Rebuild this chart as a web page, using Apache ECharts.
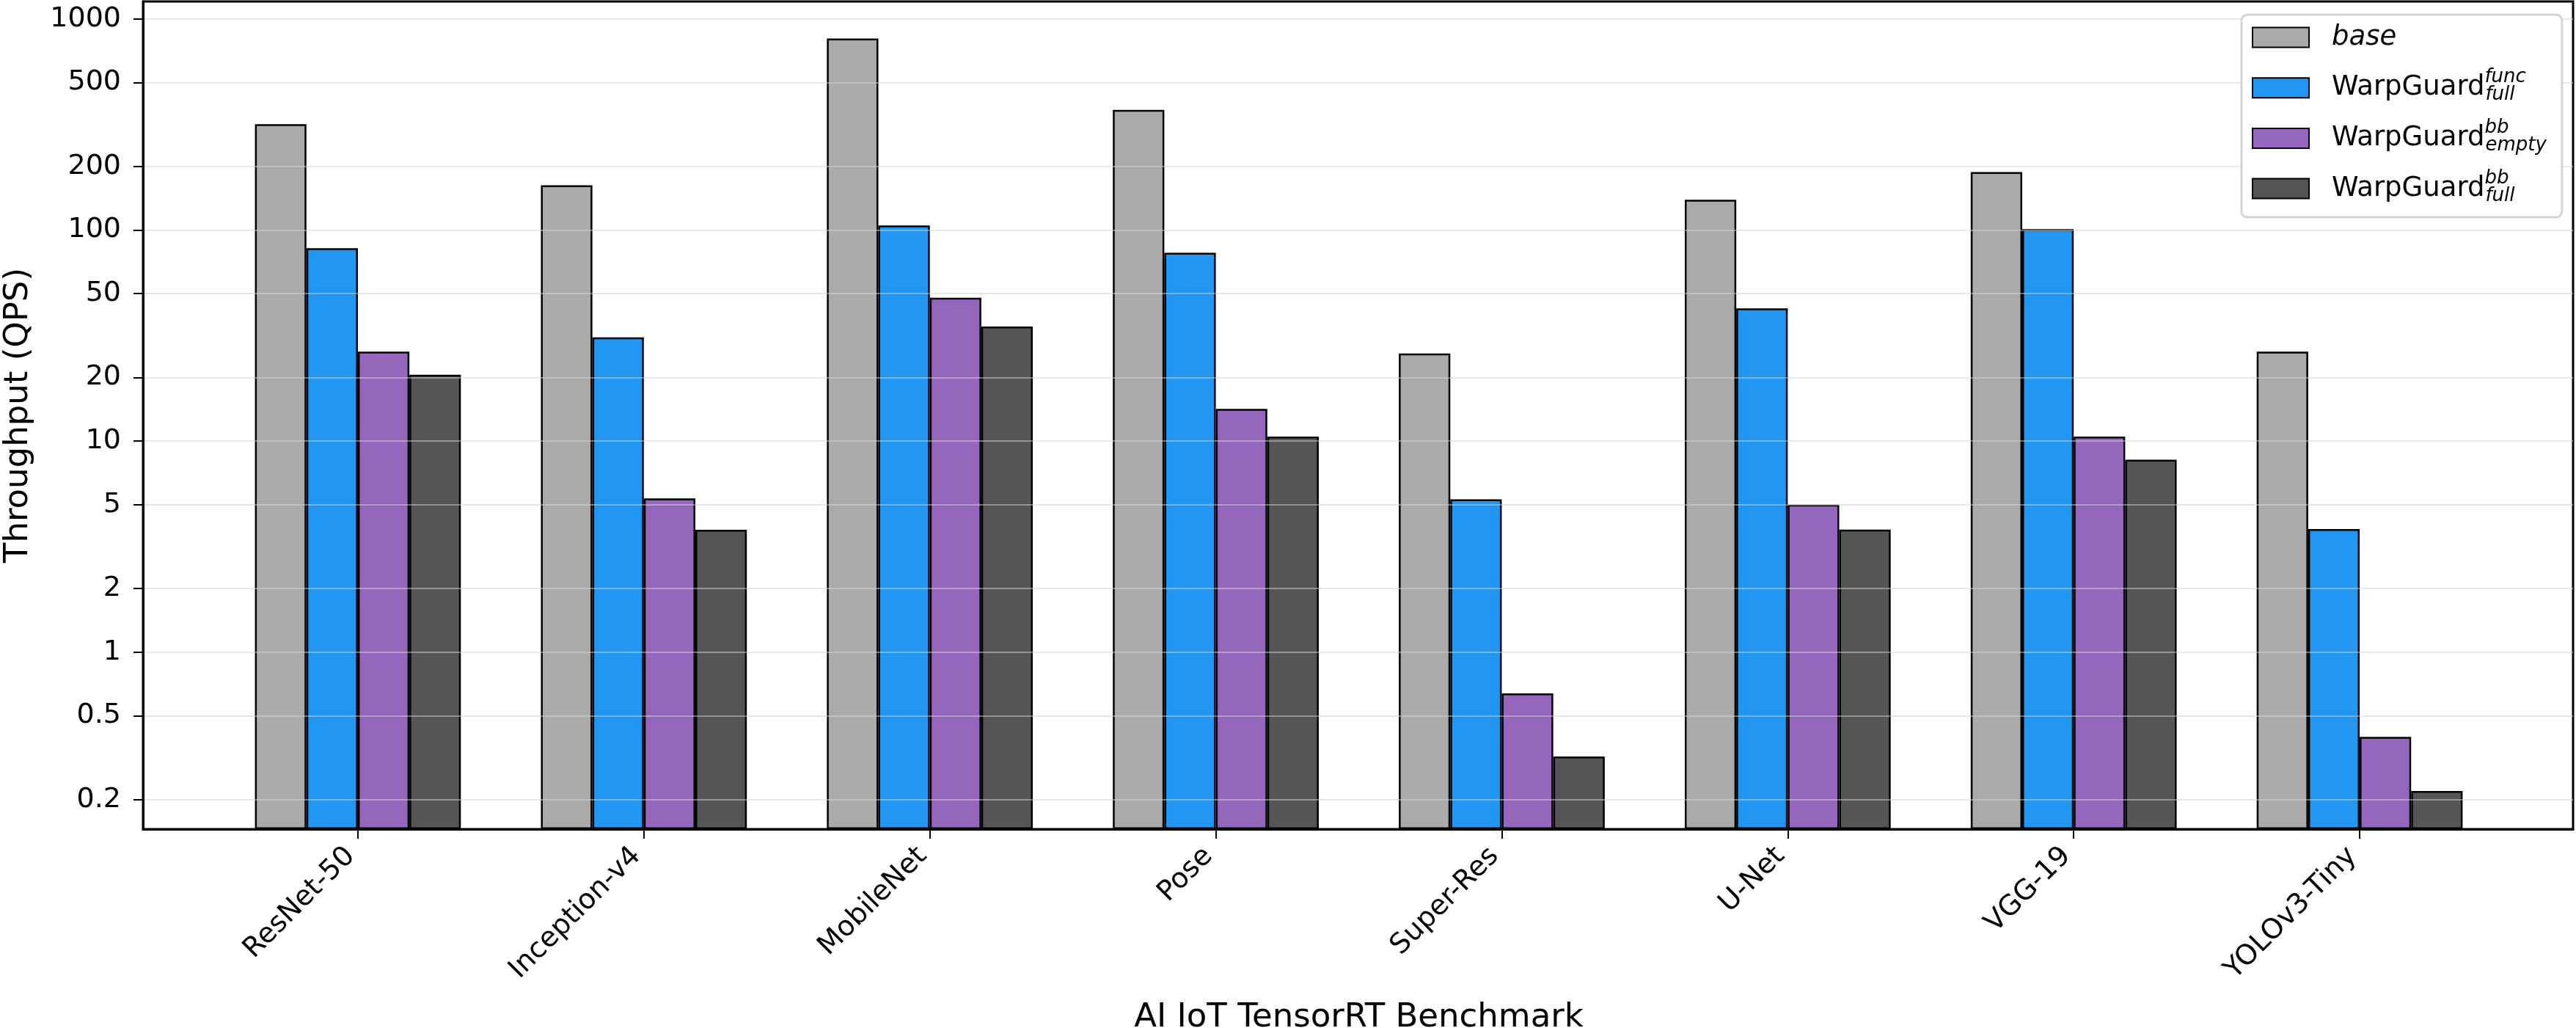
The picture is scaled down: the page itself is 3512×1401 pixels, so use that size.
<!DOCTYPE html>
<html>
<head>
<meta charset="utf-8">
<title>AI IoT TensorRT Benchmark</title>
<script src="https://cdn.jsdelivr.net/npm/echarts@6/dist/echarts.min.js"></script>
<style>
    html, body { margin: 0; padding: 0; background: #fff; }
    #chartArea { width: 3512px; height: 1401px; }
</style>
</head>
<body>
<div id="chartArea"></div>
<script>
// benchmarks on the x axis
var categories = ['ResNet-50', 'Inception-v4', 'MobileNet', 'Pose', 'Super-Res', 'U-Net', 'VGG-19', 'YOLOv3-Tiny'];

// throughput (QPS)
var baseData = [317, 163, 807, 371, 26.0, 139, 188, 26.5];
var funcFullData = [82, 31, 105, 78, 5.3, 42.5, 101, 3.83];
var bbEmptyData = [26.5, 5.35, 47.8, 14.2, 0.637, 5.0, 10.5, 0.397];
var bbFullData = [20.6, 3.8, 34.9, 10.5, 0.32, 3.81, 8.16, 0.22];

// y tick labels (1-2-5 per decade)
var yTicks = [0.2, 0.5, 1, 2, 5, 10, 20, 50, 100, 200, 500, 1000];
var yMin = 0.145;
var yMax = 1210;

var seriesNames = ['base', 'WarpGuard func full', 'WarpGuard bb empty', 'WarpGuard bb full'];
var seriesColors = ['#aaaaaa', '#2196f3', '#9467bd', '#555555'];
var seriesData = [baseData, funcFullData, bbEmptyData, bbFullData];

var FONT = 'DejaVu Sans';

// legend text with stacked super/subscripts
var legendLabels = {
    'base': '{sp| }{it|base}',
    'WarpGuard func full': '{sp| }WarpGuard{sup|func}{sub|full}',
    'WarpGuard bb empty': '{sp| }WarpGuard{sup|bb}{sub|empty}',
    'WarpGuard bb full': '{sp| }WarpGuard{sup|bb}{sub|full}'
};

var myChart = echarts.init(document.getElementById('chartArea'), null, {renderer: 'canvas'});

var temp_series = [];
for (var i = 0; i < seriesData.length; i++) {
    temp_series.push({
        name: seriesNames[i],
        type: 'bar',
        xAxisIndex: 1,
        yAxisIndex: 1,
        barWidth: '18%',
        barGap: '0%',
        clip: true,
        itemStyle: {
            color: seriesColors[i],
            borderColor: '#000',
            borderWidth: 2.5
        },
        emphasis: {disabled: true},
        data: seriesData[i]
    });
}

var option = {
    backgroundColor: '#fff',
    animation: false,
    textStyle: {fontFamily: FONT, color: '#000'},
    legend: {
        orient: 'vertical',
        left: 3056,
        top: 20,
        padding: [4, 21, 12, 14],
        itemGap: 14.7,
        itemWidth: 77,
        itemHeight: 27,
        icon: 'rect',
        backgroundColor: '#fff',
        borderColor: '#d5d5d5',
        borderWidth: 3,
        borderRadius: 8,
        data: seriesNames,
        formatter: function (name) {
            return legendLabels[name];
        },
        textStyle: {
            fontFamily: FONT,
            fontSize: 37,
            lineHeight: 54,
            color: '#000',
            rich: {
                sp: {width: 26, fontSize: 37},
                it: {fontStyle: 'italic', fontSize: 37, fontFamily: FONT},
                sup: {fontStyle: 'italic', fontSize: 26, fontFamily: FONT, width: 1, height: 26, lineHeight: 26, verticalAlign: 'top'},
                sub: {fontStyle: 'italic', fontSize: 26, fontFamily: FONT, height: 34, lineHeight: 34, verticalAlign: 'bottom'}
            }
        }
    },
    grid: [
        // frame + y axis
        {left: 195, top: 2, width: 3313, height: 1128, outerBoundsMode: 'none', containLabel: false,
            show: true, borderColor: '#000', borderWidth: 3, backgroundColor: 'transparent'},
        // bars, inset a quarter band on each side
        {left: 293, top: 2, width: 3119, height: 1128, outerBoundsMode: 'none', containLabel: false}
    ],
    xAxis: [
        {
            gridIndex: 0,
            type: 'value',
            min: 0,
            max: 1,
            z: 3,
            axisLine: {show: true, lineStyle: {color: '#000', width: 3}},
            axisTick: {show: false},
            axisLabel: {show: false},
            splitLine: {show: false}
        },
        {
            gridIndex: 1,
            type: 'category',
            data: categories,
            name: 'AI IoT TensorRT Benchmark',
            nameLocation: 'middle',
            nameGap: 235,
            nameTextStyle: {fontFamily: FONT, fontSize: 45, color: '#000'},
            axisLine: {show: false},
            axisTick: {show: true, alignWithLabel: true, length: 13, lineStyle: {color: '#000', width: 2}},
            axisLabel: {
                interval: 0,
                rotate: 45,
                margin: 21,
                align: 'right',
                verticalAlign: 'middle',
                padding: [0, 14, 0, 0],
                fontFamily: FONT,
                fontSize: 38,
                color: '#000'
            }
        }
    ],
    yAxis: [
        {
            gridIndex: 0,
            type: 'log',
            logBase: 10,
            min: yMin,
            max: yMax,
            z: 3,
            name: 'Throughput (QPS)',
            nameLocation: 'middle',
            nameGap: 147,
            nameTextStyle: {fontFamily: FONT, fontSize: 45, color: '#000'},
            axisLine: {show: true, lineStyle: {color: '#000', width: 3}},
            axisTick: {show: true, length: 13, customValues: yTicks, lineStyle: {color: '#000', width: 2}},
            axisLabel: {
                customValues: yTicks,
                margin: 30,
                fontFamily: FONT,
                fontSize: 38,
                color: '#000',
                formatter: function (v) {
                    return String(+Number(v).toPrecision(3));
                }
            },
            splitLine: {show: true, customValues: yTicks, lineStyle: {color: 'rgba(211,211,211,0.5)', width: 2}},
            minorTick: {show: false},
            minorSplitLine: {show: false}
        },
        {
            gridIndex: 1,
            type: 'log',
            logBase: 10,
            min: yMin,
            max: yMax,
            startValue: yMin,
            show: false,
            splitLine: {show: false}
        }
    ],
    series: temp_series
};

myChart.setOption(option);
</script>
</body>
</html>
